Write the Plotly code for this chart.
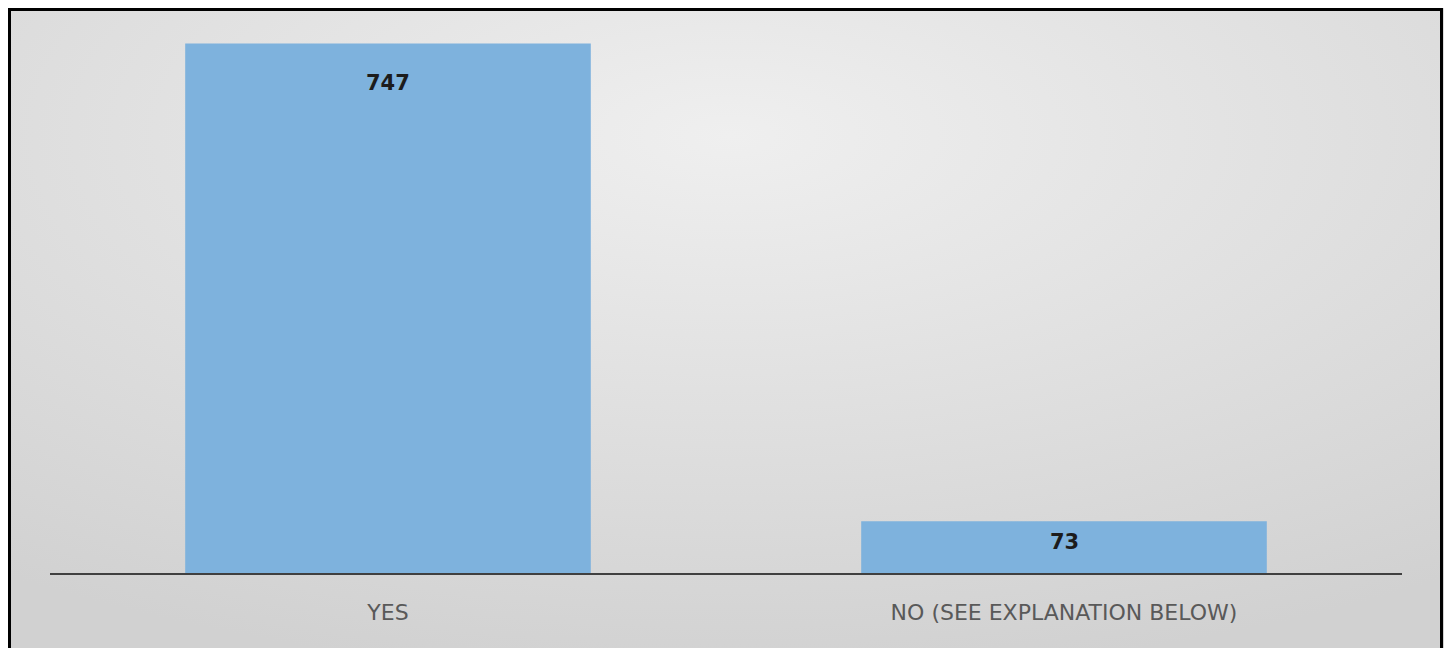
import base64
import plotly.graph_objects as go

categories = ["YES", "NO (SEE EXPLANATION BELOW)"]
values = [747, 73]
value_labels = ["747", "73"]

# page body adds an 8px offset; figure is sized to the remaining window
W, H = 1444, 640
ML, MR, MT, MB = 42, 50, 12, 75
YMAX = 780

bar_color = "#7EB2DD"
FONT = "DejaVu Sans, Verdana, sans-serif"

fig = go.Figure()
fig.add_trace(go.Bar(
    x=categories, y=values, marker=dict(color=bar_color, line=dict(width=0)),
    width=0.6, hoverinfo="x+y", showlegend=False,
))

plot_h = H - MT - MB
pw = W - ML - MR
px_per_unit = plot_h / YMAX
for c, v, t in zip(categories, values, value_labels):
    shift = -min(40, 0.4 * v * px_per_unit)
    fig.add_annotation(x=c, y=v, text="<b>%s</b>" % t, showarrow=False,
                       yshift=shift, yanchor="middle",
                       font=dict(family=FONT, size=21, color="#1C1C1C"))

# radial gradient background via inline SVG
svg = ('<svg xmlns="http://www.w3.org/2000/svg" width="1452" height="648" preserveAspectRatio="none">'
       '<defs><radialGradient id="g" cx="0.5" cy="0.2" r="0.85" fx="0.5" fy="0.2">'
       '<stop offset="0" stop-color="#EFEFEF"/><stop offset="1" stop-color="#D1D1D1"/>'
       '</radialGradient></defs><rect width="1452" height="648" fill="url(#g)"/></svg>')
src = "data:image/svg+xml;base64," + base64.b64encode(svg.encode()).decode()
fig.add_layout_image(dict(source=src, xref="paper", yref="paper",
                          x=-ML / pw, y=1 + MT / plot_h, sizex=W / pw, sizey=H / plot_h,
                          xanchor="left", yanchor="top", sizing="stretch", layer="below"))

# outer border
fig.add_shape(type="rect", xref="paper", yref="paper",
              x0=(1.5 - ML) / pw, x1=(1433.5 - ML) / pw,
              y0=-0.3, y1=(H - MB - 1.5) / plot_h,
              line=dict(color="#000000", width=3), fillcolor="rgba(0,0,0,0)", layer="above")

fig.update_layout(
    width=W, height=H,
    margin=dict(l=ML, r=MR, t=MT, b=MB),
    paper_bgcolor="#D6D6D6", plot_bgcolor="rgba(0,0,0,0)",
    xaxis=dict(showline=True, linecolor="#404040", linewidth=2, ticks="",
               showgrid=False, zeroline=False,
               tickfont=dict(family=FONT, size=22, color="#595959"),
               ticklabelstandoff=19),
    yaxis=dict(range=[0, YMAX], visible=False, showgrid=False, zeroline=False),
)

fig.write_html("out.html")
